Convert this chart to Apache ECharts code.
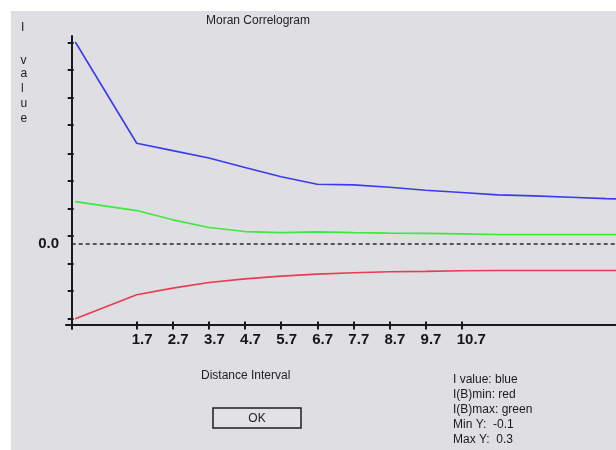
<!DOCTYPE html>
<html>
<head>
<meta charset="utf-8">
<script src="https://cdn.jsdelivr.net/npm/echarts@6/dist/echarts.min.js"></script>
<style>
html,body{margin:0;padding:0;background:#fff;}
#chart{width:616px;height:450px;}
</style>
</head>
<body>
<div id="chart"></div>
<script>
// Distance interval of each computed point
const distances = [0, 1.7, 2.7, 3.7, 4.7, 5.7, 6.7, 7.7, 8.7, 9.7, 10.7, 11.7, 12.7, 13.7, 14.7, 15.7];
// I value (blue)
const iValue = [0.301, 0.150, 0.139, 0.128, 0.114, 0.100, 0.089, 0.088, 0.0845, 0.080, 0.0765, 0.073, 0.0715, 0.0695, 0.0675, 0.066];
// I(B)max (green)
const ibMax = [0.063, 0.0496, 0.0358, 0.0243, 0.0183, 0.0168, 0.0179, 0.0168, 0.0160, 0.0156, 0.0149, 0.0139, 0.0139, 0.0139, 0.0139, 0.0139];
// I(B)min (red)
const ibMin = [-0.1118, -0.076, -0.066, -0.0577, -0.0522, -0.0481, -0.0452, -0.0432, -0.0417, -0.0410, -0.0402, -0.0398, -0.0398, -0.0398, -0.0398, -0.0398];
// x tick labels
const xTickValues = [1.7, 2.7, 3.7, 4.7, 5.7, 6.7, 7.7, 8.7, 9.7, 10.7];
// y tick marks (unlabelled) and labelled value
const yTickValues = [0.300, 0.259, 0.218, 0.177, 0.135, 0.094, 0.053, 0.012, -0.029, -0.070, -0.111];
const yLabelValues = [0];
const legendLines = ['I value: blue', 'I(B)min: red', 'I(B)max: green', 'Min Y:  -0.1', 'Max Y:  0.3'];
const yNameLetters = ['I', 'v', 'a', 'l', 'u', 'e'];

const FONT = '"Liberation Sans", Arial, sans-serif';
const AX = '#1a1a1a';
const pairs = (ys) => distances.map((d, i) => [d, ys[i]]);

const chart = echarts.init(document.getElementById('chart'), null, {renderer: 'canvas'});

const yBase = {
  type: 'value', min: -0.127, max: 0.31, position: 'left',
  splitLine: {show: false}, scale: false
};
const xBase = {
  type: 'value', min: -0.258, max: 14.973, position: 'bottom',
  splitLine: {show: false}
};

const letterY = [28, 60.5, 74, 88.5, 104, 118.5];
const letterGraphics = yNameLetters.map((t, i) => ({
  type: 'text', x: t === 'l' || t === 'I' ? 21 : 20.5, y: letterY[i],
  style: {text: t, font: '12px ' + FONT, fill: '#222', textVerticalAlign: 'middle'}
}));

const option = {
  animation: false,
  backgroundColor: '#ffffff',
  title: {
    text: 'Moran Correlogram', left: 206, top: 15, padding: 0,
    textStyle: {fontFamily: FONT, fontSize: 12, fontWeight: 'normal', color: '#222'}
  },
  grid: {left: 66, top: 36, right: 0, bottom: 121, containLabel: false, outerBoundsMode: 'none'},
  xAxis: [
    Object.assign({}, xBase, {
      axisLine: {show: true, onZero: true, onZeroAxisIndex: 2, lineStyle: {color: AX, width: 2}},
      axisTick: {show: true, inside: false, length: 5, customValues: xTickValues, lineStyle: {color: AX, width: 2}},
      axisLabel: {
        show: true, customValues: xTickValues, margin: 3, align: 'left', padding: [0, 0, 0, -5],
        formatter: (v) => v.toFixed(1),
        fontFamily: FONT, fontSize: 15, fontWeight: 'bold', color: '#151515'
      }
    }),
    // helper x axis: its zero marks where the y axis sits
    {type: 'value', min: -5.7, max: 544.3, show: false, splitLine: {show: false}, axisLine: {onZero: false}},
    Object.assign({}, xBase, {
      axisLine: {show: false, onZero: true, onZeroAxisIndex: 2},
      axisTick: {show: true, inside: true, length: 3, customValues: xTickValues, lineStyle: {color: AX, width: 2}},
      axisLabel: {show: false}
    })
  ],
  yAxis: [
    Object.assign({}, yBase, {
      axisLine: {show: true, onZero: true, onZeroAxisIndex: 1, lineStyle: {color: AX, width: 2}},
      axisTick: {show: true, inside: false, length: 4, customValues: yTickValues, lineStyle: {color: AX, width: 2}},
      axisLabel: {
        show: true, customValues: yLabelValues, margin: 7,
        formatter: (v) => v.toFixed(1),
        fontFamily: FONT, fontSize: 15, fontWeight: 'bold', color: '#151515'
      }
    }),
    Object.assign({}, yBase, {
      axisLine: {show: false, onZero: true, onZeroAxisIndex: 1},
      axisTick: {show: true, inside: true, length: 2, customValues: yTickValues, lineStyle: {color: AX, width: 2}},
      axisLabel: {show: false}
    }),
    // helper y axis: its zero marks where the x axis sits
    {type: 'value', min: -4.5, max: 288.5, show: false, position: 'left', splitLine: {show: false}, axisLine: {onZero: false}}
  ],
  series: [
    {
      name: 'I value', type: 'line', xAxisIndex: 0, yAxisIndex: 0,
      data: pairs(iValue), symbol: 'none', z: 5,
      lineStyle: {color: '#3a3aee', width: 1.6},
      markLine: {
        silent: true, symbol: 'none', label: {show: false},
        lineStyle: {color: '#2a2a2a', type: [4, 3], width: 1.6},
        data: [[{xAxis: -0.1, yAxis: 0}, {xAxis: 14.973, yAxis: 0}]]
      }
    },
    {
      name: 'I(B)max', type: 'line', xAxisIndex: 0, yAxisIndex: 0,
      data: pairs(ibMax), symbol: 'none', z: 5,
      lineStyle: {color: '#3ee83e', width: 1.6}
    },
    {
      name: 'I(B)min', type: 'line', xAxisIndex: 0, yAxisIndex: 0,
      data: pairs(ibMin), symbol: 'none', z: 5,
      lineStyle: {color: '#e83c50', width: 1.6}
    }
  ],
  graphic: [
    {type: 'rect', z: -100, silent: true, shape: {x: 11, y: 11, width: 605, height: 439}, style: {fill: '#dfdfe3'}}
  ].concat(letterGraphics).concat([
    {type: 'text', x: 201, y: 376, style: {text: 'Distance Interval', font: '12px ' + FONT, fill: '#222', textVerticalAlign: 'middle'}},
    {type: 'text', left: 453, top: 372, style: {text: legendLines.join('\n'), font: '12px ' + FONT, fill: '#1a1a1a', lineHeight: 15}},
    {type: 'rect', shape: {x: 213, y: 408, width: 88, height: 20}, style: {fill: '#e2e2e6', stroke: '#1e1e1e', lineWidth: 1.5}},
    {type: 'text', x: 257, y: 418.5, style: {text: 'OK', font: '12px ' + FONT, fill: '#222', textAlign: 'center', textVerticalAlign: 'middle'}}
  ])
};
chart.setOption(option);
</script>
</body>
</html>
